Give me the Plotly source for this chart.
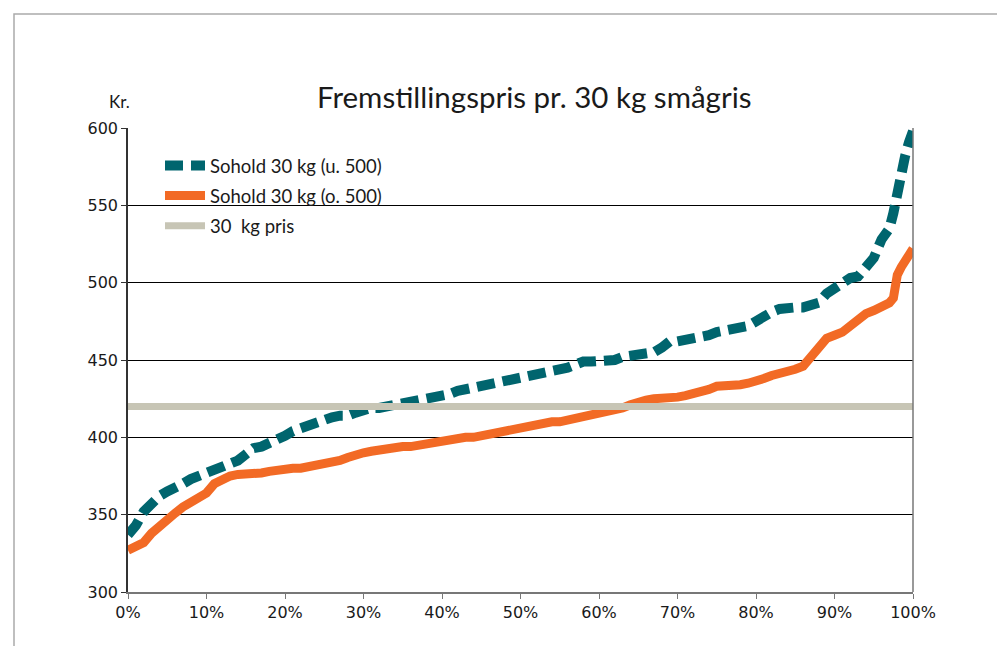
import plotly.graph_objects as go

title_text = "Fremstillingspris pr. 30 kg smågris"
y_unit = "Kr."

names = ["Sohold 30 kg (u. 500)", "Sohold 30 kg (o. 500)", "30  kg pris"]

# percentile positions (%)
pct_teal = [0, 1, 2, 3, 4, 5, 6, 7, 8, 9, 10, 11, 12, 13, 14, 15, 16, 17, 18, 19,
            20, 21, 22, 23, 24, 25, 26, 27, 28, 29, 30, 31, 32, 33, 34, 35, 36, 37, 38, 39,
            40, 41, 42, 43, 44, 45, 46, 47, 48, 49, 50, 51, 52, 53, 54, 55, 56, 57, 58, 59,
            60, 61, 62, 63, 64, 65, 66, 67, 68, 69, 70, 71, 72, 73, 74, 75, 76, 77, 78, 79,
            80, 81, 82, 83, 84, 85, 86, 87, 88, 89, 90, 91, 92, 93, 94, 95, 96, 97, 97.5, 98,
            98.5, 99, 99.5, 100]
val_teal = [337, 343, 352, 358, 362, 365, 367, 370, 373, 375, 376, 378, 380, 382, 385, 389, 393, 394, 396, 398,
            401, 404, 406, 407, 409, 412, 413, 414, 414, 416, 418, 419, 419, 420, 421, 422, 423, 424, 425, 425,
            426, 428, 430, 431, 432, 433, 434, 436, 436, 437, 438, 440, 441, 442, 442, 443, 445, 447, 449, 449,
            449, 450, 450, 452, 453, 454, 455, 455, 458, 462, 462, 463, 463, 464, 466, 468, 469, 470, 471, 472,
            475, 479, 481, 483, 484, 484, 484, 485, 487, 493, 496, 500, 503, 504, 509, 516, 528, 535, 545, 560,
            572, 582, 591, 598]

pct_orange = [0, 1, 2, 3, 4, 5, 6, 7, 8, 9, 10, 11, 12, 13, 14, 15, 16, 17, 18, 19,
              20, 21, 22, 23, 24, 25, 26, 27, 28, 29, 30, 31, 32, 33, 34, 35, 36, 37, 38, 39,
              40, 41, 42, 43, 44, 45, 46, 47, 48, 49, 50, 51, 52, 53, 54, 55, 56, 57, 58, 59,
              60, 61, 62, 63, 64, 65, 66, 67, 68, 69, 70, 71, 72, 73, 74, 75, 76, 77, 78, 79,
              80, 81, 82, 83, 84, 85, 86, 87, 88, 89, 90, 91, 92, 93, 94, 95, 96, 97, 97.5, 98,
              98.5, 99, 99.5, 100]
val_orange = [327, 329, 332, 338, 343, 348, 351, 355, 358, 361, 364, 370, 373, 375, 376, 376, 377, 377, 378, 379,
              380, 380, 380, 381, 381, 382, 384, 385, 387, 389, 390, 391, 392, 393, 393, 394, 394, 395, 396, 396,
              397, 398, 399, 400, 400, 401, 403, 404, 405, 405, 406, 407, 408, 409, 410, 410, 411, 412, 413, 414,
              416, 417, 418, 419, 421, 423, 424, 425, 425, 426, 426, 427, 428, 429, 431, 433, 433, 434, 434, 435,
              436, 438, 440, 441, 443, 444, 446, 452, 459, 464, 466, 468, 472, 476, 480, 482, 484, 487, 490, 505,
              510, 513, 518, 522]

pct_price = [0, 100]
val_price = [420, 420]

x_ticks = [0, 10, 20, 30, 40, 50, 60, 70, 80, 90, 100]
x_ticklabels = [f"{t}%" for t in x_ticks]
y_ticks = [300, 350, 400, 450, 500, 550, 600]

TEAL = "#00656E"
ORANGE = "#F26A25"
GREY = "#C7C5B5"

fig = go.Figure()
fig.add_trace(go.Scatter(x=pct_teal, y=val_teal, mode="lines", name=names[0],
                         line=dict(color=TEAL, width=10, dash="18px,8px"),
                         legendgroup="a"))
fig.add_trace(go.Scatter(x=pct_orange, y=val_orange, mode="lines", name=names[1],
                         line=dict(color=ORANGE, width=9),
                         legendgroup="b"))
fig.add_trace(go.Scatter(x=pct_price, y=val_price, mode="lines", name=names[2],
                         line=dict(color=GREY, width=7),
                         legendgroup="c"))

# page has an 8px body margin; figure canvas starts at (8, 8)
OFF = 8
W, H = 1005 - OFF, 646 - OFF
PL, PR, PT, PB = 128, 913, 128, 592   # plot area in page pixels
L, R, T, B = PL - OFF, W + OFF - PR, PT - OFF, H + OFF - PB
pw, ph = PR - PL, PB - PT

def px(xp):
    return (xp - PL) / pw

def py(yp):
    return (PB - yp) / ph

fig.update_layout(
    width=W, height=H,
    margin=dict(l=L, r=R, t=T, b=B),
    plot_bgcolor="white", paper_bgcolor="white",
    font=dict(family="Lato", color="#1a1a1a"),
    showlegend=True,
    legend=dict(x=px(160), y=py(147), xanchor="left", yanchor="top",
                bgcolor="rgba(0,0,0,0)", font=dict(family="Lato", size=18.5, color="#1a1a1a"),
                traceorder="grouped", tracegroupgap=3, itemwidth=40),
    xaxis=dict(range=[0, 100], tickvals=x_ticks, ticktext=x_ticklabels,
               showgrid=False, zeroline=False, showline=True, linecolor="#777777", linewidth=1.5,
               ticks="outside", ticklen=5, tickcolor="#777777",
               tickfont=dict(family="DejaVu Sans", size=16, color="#1a1a1a")),
    yaxis=dict(range=[300, 600], tickvals=y_ticks,
               showgrid=True, gridcolor="#000000", gridwidth=1, zeroline=False,
               showline=True, linecolor="#333333", linewidth=1.5,
               ticks="outside", ticklen=5, tickcolor="#333333",
               tickfont=dict(family="DejaVu Sans", size=16, color="#1a1a1a")),
    annotations=[
        dict(text=title_text, x=px(534), y=py(97), xref="paper", yref="paper",
             showarrow=False, xanchor="center", yanchor="middle",
             font=dict(family="Lato", size=29.5, color="#1a1a1a")),
        dict(text=y_unit, x=px(119), y=py(102), xref="paper", yref="paper",
             showarrow=False, xanchor="center", yanchor="middle",
             font=dict(family="Lato", size=17, color="#1a1a1a")),
    ],
    shapes=[
        dict(type="line", xref="paper", yref="paper", x0=1, x1=1, y0=0, y1=1,
             line=dict(color="#777777", width=1.5), layer="above"),
        dict(type="rect", xref="paper", yref="paper", x0=px(14), x1=px(1100), y0=py(700), y1=py(14),
             line=dict(color="#AAAAAA", width=1.5), layer="below"),
    ],
)

fig.write_html("out.html")
